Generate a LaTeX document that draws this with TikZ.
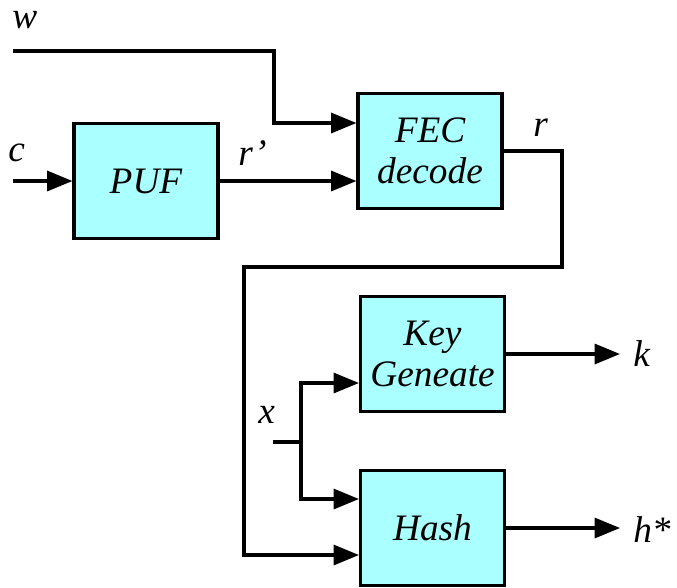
\documentclass[tikz,border=0pt]{standalone}
\usepackage{fontspec}
\setmainfont{Liberation Serif}
\usetikzlibrary{arrows.meta}
\definecolor{boxfill}{RGB}{170,255,255}
\begin{document}
\begin{tikzpicture}[x=0.75pt,y=-0.75pt,
  txt/.style={font=\fontsize{28}{31}\selectfont\itshape},
  block/.style={txt, draw=black, line width=2.3pt, fill=boxfill,
    minimum width=108pt, minimum height=86pt, inner sep=0pt, align=center},
  lbl/.style={txt, inner sep=0pt, anchor=base west},
  wire/.style={line width=2.3pt, line join=miter},
  flow/.style={wire, -{Triangle[length=19pt,width=15pt]}}]
\useasboundingbox (0,0) rectangle (677,587);

% processing blocks
\node[block] (puf)  at (146,181)   {PUF};
\node[block] (fec)  at (430,151)   {FEC\\decode};
\node[block] (key)  at (432.5,354) {Key\\Geneate};
\node[block] (hash) at (432.5,528) {Hash};

% signal labels
\node[lbl] (w)  at (12,28)   {w};
\node[lbl] (c)  at (8,161)   {c};
\node[lbl] (rp) at (238,165) {r’};
\node[lbl] (r)  at (533,136) {r};
\node[lbl] (x)  at (258,423) {x};
\node[lbl] (k)  at (633,366) {k};
\node[lbl] (h)  at (633,542) {h*};

% free input ends
\coordinate (w0) at (13,51);
\coordinate (c0) at (13,181);
\coordinate (x0) at (273,442);
\coordinate (xj) at (301,442);

% connections
\draw[flow] (w0) -| (274,123) -- (fec.west |- 0,123);
\draw[flow] (c0) -- (puf.west);
\draw[flow] (puf.east) -- (fec.west |- puf.east);
\draw[flow] (fec.east) -| (562,267) -| (244,555) -- (hash.west |- 0,555);
\draw[wire] (x0) -- (xj);
\draw[flow] (xj) |- (key.west |- 0,383);
\draw[flow] (xj) |- (hash.west |- 0,499);
\draw[flow] (key.east) -- (620,354);
\draw[flow] (hash.east) -- (620,528);
\end{tikzpicture}
\end{document}
